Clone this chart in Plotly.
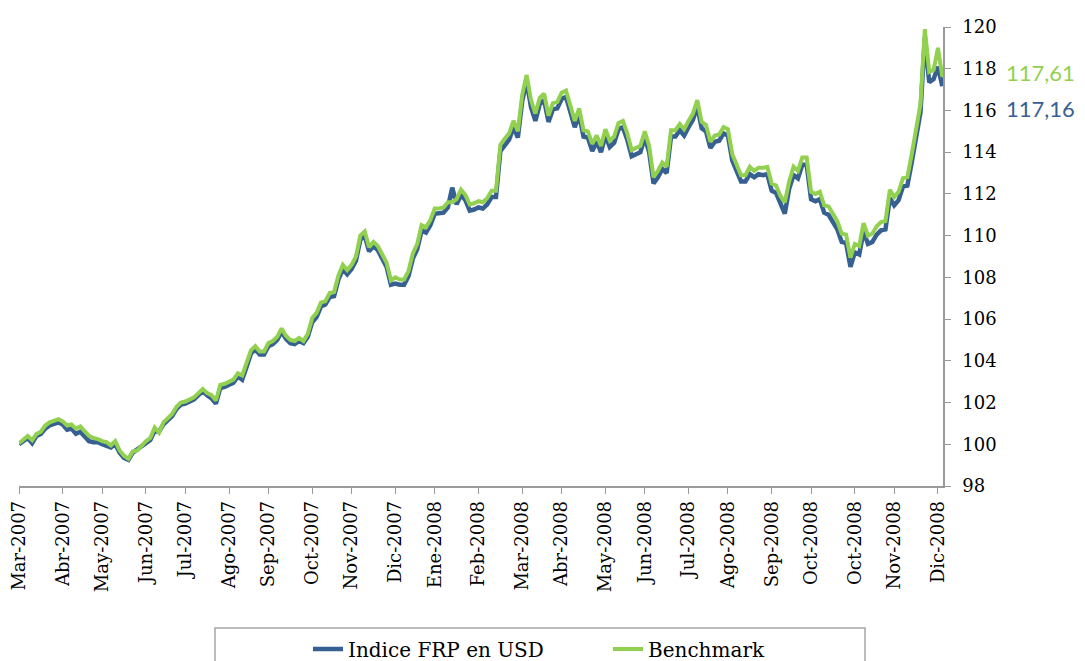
import plotly.graph_objects as go

# --- data ---
indice_frp = [
    100.0, 100.15, 100.3, 100.05, 100.4, 100.5, 100.75, 100.9, 101.0, 101.05,
    100.95, 100.7, 100.75, 100.5, 100.6, 100.35, 100.15, 100.1, 100.1, 100.0,
    99.95, 99.85, 100.0, 99.6, 99.35, 99.25, 99.6, 99.75, 99.95, 100.1,
    100.2, 100.65, 100.6, 100.95, 101.15, 101.35, 101.7, 101.9, 101.95, 102.05,
    102.15, 102.35, 102.55, 102.35, 102.2, 101.95, 102.7, 102.75, 102.85, 102.95,
    103.25, 103.1, 103.7, 104.35, 104.55, 104.3, 104.3, 104.7, 104.8, 105.0,
    105.4, 105.05, 104.85, 104.8, 104.95, 104.85, 105.15, 105.85, 106.1, 106.6,
    106.7, 107.05, 107.1, 107.9, 108.4, 108.15, 108.4, 108.8, 109.8, 110.0,
    109.25, 109.5, 109.3, 108.9, 108.5, 107.65, 107.7, 107.65, 107.65, 108.05,
    108.9, 109.35, 110.25, 110.15, 110.5, 111.05, 111.05, 111.1, 111.35, 112.3,
    111.5, 111.95, 111.7, 111.2, 111.25, 111.35, 111.3, 111.5, 111.85, 111.85,
    114.05, 114.35, 114.6, 115.2, 114.7, 116.45, 117.4, 116.15, 115.5, 116.3,
    116.5, 115.45, 116.05, 116.1, 116.55, 116.65, 116.0, 115.2, 115.8, 114.75,
    114.7, 114.05, 114.5, 114.0, 114.8, 114.25, 114.45, 115.1, 115.2, 114.6,
    113.8, 113.9, 114.0, 114.7, 114.0, 112.5, 112.8, 113.2, 113.0, 114.75,
    114.75, 115.05, 114.8, 115.2, 115.55, 116.2, 115.15, 115.0, 114.2, 114.5,
    114.55, 114.9, 114.8, 113.6, 113.05, 112.6, 112.6, 112.95, 112.8, 112.95,
    112.9, 112.95, 112.15, 112.05, 111.55, 111.05, 112.25, 112.9, 112.75, 113.4,
    113.4, 111.75, 111.65, 111.75, 111.1, 111.0, 110.65, 110.3, 109.7, 109.65,
    108.5, 109.2, 109.1, 110.2, 109.6, 109.7, 110.05, 110.25, 110.3, 111.8,
    111.45, 111.7, 112.35, 112.4, 113.5, 114.6, 115.9, 119.5, 117.35, 117.5,
    118.1, 117.16,
]

benchmark = [
    100.05, 100.25, 100.4, 100.2, 100.5, 100.6, 100.9, 101.05, 101.15, 101.2,
    101.1, 100.9, 100.95, 100.75, 100.85, 100.6, 100.4, 100.3, 100.25, 100.15,
    100.1, 99.95, 100.15, 99.7, 99.45, 99.3, 99.65, 99.7, 99.95, 100.15,
    100.3, 100.8, 100.55, 101.05, 101.25, 101.45, 101.8, 102.0, 102.05, 102.15,
    102.25, 102.45, 102.65, 102.45, 102.35, 102.1, 102.85, 102.9, 103.0, 103.1,
    103.4, 103.3, 103.9, 104.5, 104.7, 104.45, 104.45, 104.85, 104.95, 105.15,
    105.55, 105.2, 105.0, 104.95, 105.1, 104.95, 105.3, 106.05, 106.3, 106.8,
    106.85, 107.25, 107.3, 108.1, 108.6, 108.35, 108.6, 109.0, 110.0, 110.2,
    109.45, 109.7, 109.5, 109.1, 108.7, 107.85, 108.0, 107.9, 107.9, 108.3,
    109.15, 109.6, 110.5, 110.4, 110.75, 111.3, 111.3, 111.35, 111.6, 111.6,
    111.75, 112.2, 111.95, 111.5, 111.55, 111.65, 111.6, 111.8, 112.15, 112.15,
    114.35, 114.65, 114.9, 115.5, 115.0, 116.75, 117.7, 116.5, 115.85, 116.6,
    116.8, 115.75, 116.35, 116.4, 116.85, 116.95, 116.3, 115.5, 116.1, 115.05,
    115.0, 114.4, 114.8, 114.3, 115.1, 114.55, 114.75, 115.4, 115.5, 114.9,
    114.1, 114.2, 114.3, 115.0, 114.3, 112.8, 113.1, 113.5, 113.3, 115.05,
    115.05, 115.35, 115.1, 115.5, 115.85, 116.5, 115.45, 115.3, 114.5, 114.8,
    114.85, 115.2, 115.1, 113.9, 113.35, 112.9, 112.9, 113.3, 113.1, 113.25,
    113.25, 113.3, 112.5, 112.4, 111.9, 111.6, 112.6, 113.3, 113.1, 113.75,
    113.75, 112.1, 112.0, 112.1, 111.45, 111.4, 111.05, 110.7, 110.1, 110.05,
    108.95, 109.6, 109.5, 110.6, 110.0, 110.1, 110.45, 110.65, 110.7, 112.2,
    111.85, 112.1, 112.75, 112.8, 113.9, 115.05, 116.3, 119.9, 117.85, 117.95,
    119.0, 117.61,
]

tick_labels = [
    "Mar-2007", "Abr-2007", "May-2007", "Jun-2007", "Jul-2007", "Ago-2007",
    "Sep-2007", "Oct-2007", "Nov-2007", "Dic-2007", "Ene-2008", "Feb-2008",
    "Mar-2008", "Abr-2008", "May-2008", "Jun-2008", "Jul-2008", "Ago-2008",
    "Sep-2008", "Oct-2008", "Oct-2008", "Nov-2008", "Dic-2008",
]
tick_positions = [0, 10, 19, 29, 38, 48, 57, 67, 76, 86, 95, 105, 115, 124,
                  134, 143, 153, 162, 172, 181, 191, 200, 210]

series_names = ["Indice FRP en USD", "Benchmark"]

BLUE = "#376092"
GREEN = "#92D050"
AXIS = "#9A9A9A"
SERIF = "DejaVu Serif"

# page has an 8px body margin, so the figure is 8px smaller than the window
W, H = 1077, 653

x = list(range(len(benchmark)))

fig = go.Figure()
fig.add_trace(go.Scatter(x=x, y=indice_frp, mode="lines", name=series_names[0],
                         line=dict(color=BLUE, width=4.5)))
fig.add_trace(go.Scatter(x=x, y=benchmark, mode="lines", name=series_names[1],
                         line=dict(color=GREEN, width=4)))

fmt = lambda v: f"{v:.2f}".replace(".", ",")
fig.add_annotation(xref="paper", x=(1077 - 19) / 924, xanchor="right", yref="y",
                   y=benchmark[-1], yshift=4, text=fmt(benchmark[-1]), showarrow=False,
                   font=dict(family="Lato", size=22, color=GREEN))
fig.add_annotation(xref="paper", x=(1077 - 19) / 924, xanchor="right", yref="y",
                   y=indice_frp[-1], yshift=-22, text=fmt(indice_frp[-1]), showarrow=False,
                   font=dict(family="Lato", size=22, color=BLUE))

# legend frame
fig.add_shape(type="rect", xref="paper", yref="paper",
              x0=(215 - 19) / 924, x1=(865 - 19) / 924,
              y0=-0.5, y1=(486 - 628) / 459,
              line=dict(color="#A6A6A6", width=1.5), fillcolor="rgba(0,0,0,0)")

fig.update_layout(
    width=W, height=H,
    margin=dict(l=11, r=142, t=19, b=175, autoexpand=False),
    paper_bgcolor="white", plot_bgcolor="white",
    font=dict(family=SERIF, color="black"),
    showlegend=True,
    legend=dict(orientation="h", xanchor="left", yanchor="middle",
                xref="paper", yref="container",
                x=(308 - 19) / 924, y=(H - 641) / H,
                entrywidth=255, font=dict(family=SERIF, size=20, color="black"),
                bgcolor="rgba(0,0,0,0)", borderwidth=0),
    xaxis=dict(range=[0, 211.15], tickmode="array", tickvals=tick_positions,
               ticktext=tick_labels, tickangle=-90, ticks="outside", ticklen=6,
               tickcolor=AXIS, showline=True, linecolor=AXIS, linewidth=1.5,
               showgrid=False, zeroline=False, automargin=False,
               ticklabeloverflow="allow",
               tickfont=dict(family=SERIF, size=18, color="black")),
    yaxis=dict(side="right", range=[98, 120], dtick=2, ticks="outside",
               ticklen=6, tickcolor=AXIS, showline=True, linecolor=AXIS,
               linewidth=1.5, showgrid=False, zeroline=False, automargin=False,
               ticklabelstandoff=8,
               tickfont=dict(family=SERIF, size=18, color="black")),
)

fig.write_html("out.html")
